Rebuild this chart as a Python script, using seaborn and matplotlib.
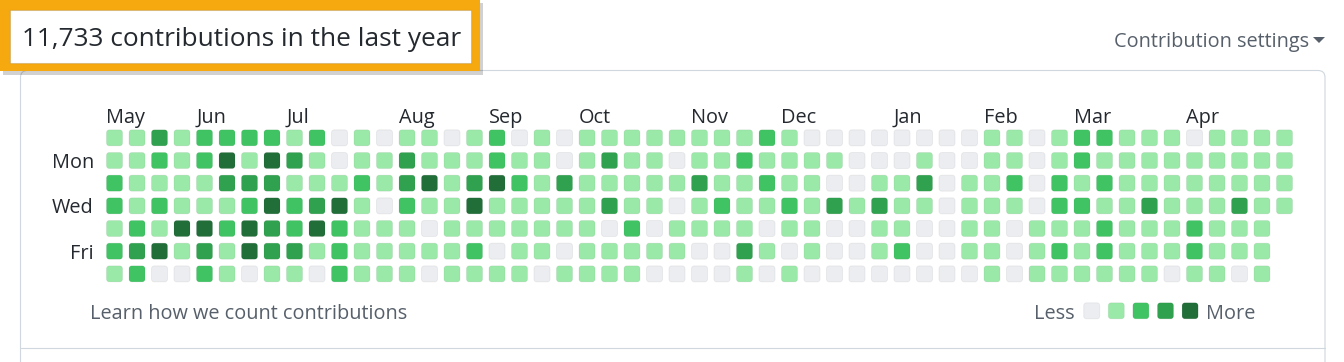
import numpy as np
import pandas as pd
import matplotlib
matplotlib.use("Agg")
import matplotlib.pyplot as plt
import seaborn as sns
from matplotlib.path import Path
from matplotlib.patches import FancyBboxPatch, Rectangle, Polygon

# ---------------- data (contribution level per week, one list per weekday) -------------
sun = [1,1,3,1,2,2,2,2,1,2,0, 1,0,1,1,0,1,2,0,1,0,1,1,1, 1,1,1,1,1,2,1,0,0,0,0,0,0, 0,0,1,1,0,1,2,2,1,1,1,0,1,1,1,1]
mon = [1,1,2,1,2,4,1,4,3,1,0, 1,1,3,1,1,1,2,1,1,0,1,3,1, 1,0,1,1,2,1,1,1,1,0,0,0,1, 0,0,1,1,0,1,2,1,1,1,1,1,1,1,1,1]
tue = [2,1,1,1,1,3,3,3,1,1,1, 2,1,3,4,1,3,4,2,1,3,1,1,1, 1,1,3,1,1,2,1,1,0,0,1,1,3, 0,1,1,2,0,2,1,2,1,1,1,1,1,1,1,1]
wed = [2,1,2,1,1,1,2,4,2,3,4, 1,0,2,1,1,4,1,1,1,1,1,3,1, 1,0,1,2,1,1,2,1,3,1,3,1,1, 0,1,1,1,0,2,2,1,1,3,1,1,1,3,1,1]
thu = [1,2,1,4,4,2,4,3,2,4,2, 1,1,1,0,1,1,1,1,1,1,1,0,2, 0,1,1,1,1,0,1,1,0,0,1,1,0, 0,1,1,0,1,1,1,2,1,1,1,2,1,1,1]
fri = [2,3,4,1,3,1,4,3,3,1,2, 1,1,1,1,1,2,0,1,1,0,1,1,1, 1,1,0,0,3,1,0,1,0,0,1,2,0, 0,1,1,0,1,2,1,2,1,1,1,2,1,1,1]
sat = [1,2,0,0,2,1,0,1,1,0,2, 1,1,1,0,1,1,1,1,0,1,1,1,1, 0,0,0,0,1,0,1,0,0,0,0,0,0, 0,0,1,0,1,1,1,1,1,1,0,1,1,0,1]

weekday_rows = [sun, mon, tue, wed, thu, fri, sat]
day_labels = ["Mon", "Wed", "Fri"]
day_label_rows = [1, 3, 5]
months = ["May", "Jun", "Jul", "Aug", "Sep", "Oct", "Nov", "Dec", "Jan", "Feb", "Mar", "Apr"]
month_weeks = [0, 4, 8, 13, 17, 21, 26, 30, 35, 39, 43, 48]
levels = [0, 1, 2, 3, 4]
level_colors = ["#ebedf0", "#9be9a8", "#40c463", "#30a14e", "#216e39"]
title_text = "11,733 contributions in the last year"

records = []
for d, row in enumerate(weekday_rows):
    for w, v in enumerate(row):
        records.append({"week": w, "day": d, "level": v})
df = pd.DataFrame(records)
palette = dict(zip(levels, level_colors))
legend_df = pd.DataFrame({"pos": levels, "y": [0] * len(levels), "level": levels})

# ---------------- style ----------------
sns.set_theme(style="white")
plt.rcParams["font.family"] = ["Open Sans", "DejaVu Sans"]
FS = 14.3
TXT = "#24292f"
MUTED = "#57606a"

W, H = 1344, 362
fig = plt.figure(figsize=(W / 100, H / 100), dpi=100)
fig.patch.set_facecolor("white")

def rect(left, top, right, bottom):
    return [left / W, 1 - bottom / H, (right - left) / W, (bottom - top) / H]

# rounded-square marker
def rounded_square(r=0.17, n=8):
    verts = []
    for cx, cy, a0 in [(0.5 - r, 0.5 - r, 0), (-0.5 + r, 0.5 - r, 90),
                       (-0.5 + r, -0.5 + r, 180), (0.5 - r, -0.5 + r, 270)]:
        for t in np.linspace(np.radians(a0), np.radians(a0 + 90), n):
            verts.append((cx + r * np.cos(t), cy + r * np.sin(t)))
    verts.append(verts[0])
    codes = [Path.MOVETO] + [Path.LINETO] * (len(verts) - 2) + [Path.CLOSEPOLY]
    return Path(verts, codes)

marker = rounded_square()
edge = (27 / 255, 31 / 255, 35 / 255, 0.06)
msize = 133

# ---------------- background decorations ----------------
bg = fig.add_axes([0, 0, 1, 1])
bg.set_xlim(0, W)
bg.set_ylim(H, 0)
bg.axis("off")

card = FancyBboxPatch((20.5, 70.5), 1304.5, 340, boxstyle="round,pad=0,rounding_size=7",
                      fc="white", ec="#d0d7de", lw=0.8, zorder=1)
bg.add_patch(card)
bg.plot([20.5, 1325], [347.5, 347.5], color="#d0d7de", lw=0.8, zorder=2)

# highlight box around the title
bg.add_patch(Rectangle((3, 3), 480, 72, fc=(0, 0, 0, 0.18), ec="none", zorder=3))
bg.add_patch(Rectangle((0, 0), 480, 71, fc="#f6a80f", ec="none", zorder=4))
bg.add_patch(Rectangle((10, 10), 461, 53, fc="white", ec=(0, 0, 0, 0.12), lw=0.8, zorder=5))

bg.text(22, 46, title_text, fontsize=18.9, color=TXT, ha="left", va="baseline", zorder=6)
bg.text(1309, 47, "Contribution settings", fontsize=FS, color=MUTED,
        ha="right", va="baseline", zorder=6)
bg.add_patch(Polygon([(1313, 37), (1325, 37), (1319, 43)], closed=True,
                     fc=MUTED, ec="none", zorder=6))
bg.text(90, 319, "Learn how we count contributions", fontsize=FS, color=MUTED,
        ha="left", va="baseline", zorder=6)
bg.text(1075, 319, "Less", fontsize=FS, color=MUTED, ha="right", va="baseline", zorder=6)
bg.text(1206, 319, "More", fontsize=FS, color=MUTED, ha="left", va="baseline", zorder=6)

# ---------------- contribution grid ----------------
ax = fig.add_axes(rect(103.25, 126.5, 1295.75, 285.2))
ax.patch.set_alpha(0)
sns.scatterplot(data=df, x="week", y="day", hue="level", palette=palette, marker=marker,
                s=msize, edgecolor=edge, linewidth=0.7, legend=False, ax=ax)
ax.set_xlim(-0.5, len(sun) - 0.5)
ax.set_ylim(6.5, -0.5)
for s in ax.spines.values():
    s.set_visible(False)
ax.set_xlabel("")
ax.set_ylabel("")
ax.xaxis.tick_top()
ax.set_xticks(np.array(month_weeks) - 0.37)
ax.set_xticklabels(months, fontsize=FS, color=TXT, ha="left")
for lab in ax.get_xticklabels():
    lab.set_va("baseline")
ax.tick_params(axis="x", length=0, pad=2.6)
ax.set_yticks(day_label_rows)
ax.set_yticklabels(day_labels, fontsize=FS, color=TXT)
ax.tick_params(axis="y", length=0, pad=6.7)

# ---------------- legend squares ----------------
lax = fig.add_axes(rect(1079.4, 298.8, 1202.4, 322.8))
lax.patch.set_alpha(0)
sns.scatterplot(data=legend_df, x="pos", y="y", hue="level", palette=palette, marker=marker,
                s=msize, edgecolor=edge, linewidth=0.7, legend=False, ax=lax)
lax.set_xlim(-0.5, 4.5)
lax.set_ylim(-0.5, 0.5)
lax.axis("off")

fig.savefig("out.png", dpi=100)
